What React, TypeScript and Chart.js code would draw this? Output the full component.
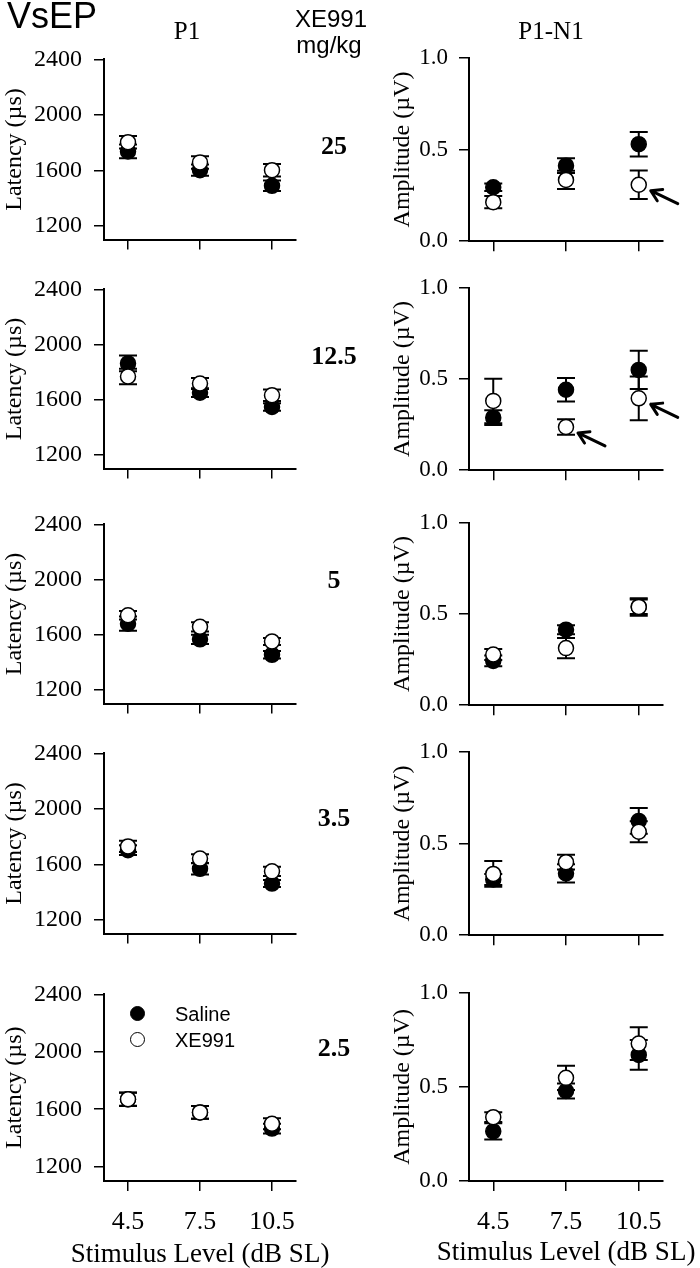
import React, { useEffect, useRef } from 'react';
import { Chart, registerables } from 'chart.js';

Chart.register(...registerables);

// ---------- data ----------
const LEVELS = [4.5, 7.5, 10.5];
const DOSES = ['25', '12.5', '5', '3.5', '2.5'];
const LAT_TICKS = [1200, 1600, 2000, 2400];
const AMP_TICKS = [0, 0.5, 1.0];

// P1 latency (µs), rows = dose (25, 12.5, 5, 3.5, 2.5 mg/kg), cols = level
const latSaline = [
  [1736, 1601, 1488],
  [1863, 1651, 1547],
  [1680, 1566, 1454],
  [1702, 1567, 1461],
  [1669, 1578, 1465],
];
const latSalineErr = [
  [50, 40, 38],
  [57, 31, 27],
  [52, 33, 27],
  [35, 40, 25],
  [47, 45, 34],
];
const latXE = [
  [1803, 1657, 1601],
  [1768, 1717, 1632],
  [1741, 1657, 1551],
  [1729, 1641, 1549],
  [1669, 1578, 1499],
];
const latXEErr = [
  [45, 45, 45],
  [56, 40, 41],
  [30, 34, 25],
  [40, 32, 34],
  [45, 45, 39],
];

// P1-N1 amplitude (µV)
const ampSaline = [
  [0.294, 0.412, 0.529],
  [0.288, 0.441, 0.55],
  [0.243, 0.414, 0.54],
  [0.304, 0.337, 0.623],
  [0.264, 0.478, 0.67],
];
const ampSalineErr = [
  [0.02, 0.04, 0.067],
  [0.04, 0.065, 0.105],
  [0.03, 0.025, 0.04],
  [0.03, 0.05, 0.07],
  [0.043, 0.04, 0.079],
];
const ampXE = [
  [0.213, 0.334, 0.308],
  [0.38, 0.237, 0.394],
  [0.278, 0.313, 0.539],
  [0.334, 0.398, 0.564],
  [0.339, 0.548, 0.73],
];
const ampXEErr = [
  [0.033, 0.05, 0.078],
  [0.122, 0.042, 0.12],
  [0.03, 0.056, 0.048],
  [0.07, 0.04, 0.057],
  [0.026, 0.064, 0.087],
];
// XE991 amplitude points marked with an arrow (level indices per dose row)
const ampArrows = [[2], [1, 2], [], [], []];

// ---------- layout ----------
const ROW_TOP = [53, 283, 518, 747, 988];
const ROW_BOTTOM = [246, 475, 710, 940, 1181];
const PAGE_H = 1268;
const TOP_PAD = 20;
const GEOM: any = {
  lat: { left: 0, width: 350, axisW: 104, padR: 54, tickFont: 24, tickPad: 12, titlePad: 0 },
  amp: { left: 350, width: 350, axisW: 119, padR: 37, tickFont: 23, tickPad: 11, titlePad: 38 },
};
const SERIF = "'Liberation Serif', 'Times New Roman', serif";
const SANS = "'Liberation Sans', Arial, sans-serif";

Chart.defaults.font.family = SERIF;
Chart.defaults.color = '#000';

const errorBarPlugin = {
  id: 'errbars',
  beforeDatasetDraw(chart: any, args: any) {
    const ds = chart.data.datasets[args.index];
    const errs = ds.errors;
    if (!errs) return;
    const meta = args.meta;
    const ys = chart.scales.y;
    const ctx = chart.ctx;
    ctx.save();
    ctx.strokeStyle = '#000';
    ctx.lineWidth = 2;
    ds.data.forEach((p: any, i: number) => {
      const px = meta.data[i].x;
      const yt = ys.getPixelForValue(p.y + errs[i]);
      const yb = ys.getPixelForValue(p.y - errs[i]);
      ctx.beginPath();
      ctx.moveTo(px, yt);
      ctx.lineTo(px, yb);
      ctx.moveTo(px - 9, yt);
      ctx.lineTo(px + 9, yt);
      ctx.moveTo(px - 9, yb);
      ctx.lineTo(px + 9, yb);
      ctx.stroke();
    });
    ctx.restore();
  },
};

function makeArrowPlugin(indices: number[]) {
  return {
    id: 'arrows',
    afterDatasetsDraw(chart: any) {
      if (!indices.length) return;
      const meta = chart.getDatasetMeta(1); // XE991 dataset
      const ctx = chart.ctx;
      ctx.save();
      ctx.strokeStyle = '#000';
      ctx.lineWidth = 3;
      ctx.lineCap = 'round';
      ctx.lineJoin = 'round';
      indices.forEach((i) => {
        const pt = meta.data[i];
        const tx = pt.x + 12, ty = pt.y + 6;
        const sx = pt.x + 39, sy = pt.y + 19;
        const ang = Math.atan2(ty - sy, tx - sx);
        const hl = 12;
        ctx.beginPath();
        ctx.moveTo(sx, sy);
        ctx.lineTo(tx, ty);
        ctx.moveTo(tx - hl * Math.cos(ang - 0.55), ty - hl * Math.sin(ang - 0.55));
        ctx.lineTo(tx, ty);
        ctx.lineTo(tx - hl * Math.cos(ang + 0.55), ty - hl * Math.sin(ang + 0.55));
        ctx.stroke();
      });
      ctx.restore();
    },
  };
}

function Panel({ kind, row }: { kind: 'lat' | 'amp'; row: number }) {
  const ref = useRef<HTMLCanvasElement>(null);
  const g = GEOM[kind];
  const isLast = row === DOSES.length - 1;
  const xAxisH = isLast ? 60 : 20;
  const canvasTop = ROW_TOP[row] - TOP_PAD;
  const canvasH = TOP_PAD + (ROW_BOTTOM[row] - ROW_TOP[row]) + xAxisH;

  useEffect(() => {
    const isLat = kind === 'lat';
    const sal = isLat ? latSaline[row] : ampSaline[row];
    const salE = isLat ? latSalineErr[row] : ampSalineErr[row];
    const xe = isLat ? latXE[row] : ampXE[row];
    const xeE = isLat ? latXEErr[row] : ampXEErr[row];
    const yTicks = isLat ? LAT_TICKS : AMP_TICKS;

    const chart = new Chart(ref.current as HTMLCanvasElement, {
      type: 'scatter',
      data: {
        datasets: [
          {
            label: 'Saline',
            data: LEVELS.map((x, i) => ({ x, y: sal[i] })),
            errors: salE,
            pointRadius: 7.5,
            pointBorderWidth: 1.5,
            pointBackgroundColor: '#000',
            pointBorderColor: '#000',
            order: 1,
          } as any,
          {
            label: 'XE991',
            data: LEVELS.map((x, i) => ({ x, y: xe[i] })),
            errors: xeE,
            pointRadius: 7.5,
            pointBorderWidth: 1.5,
            pointBackgroundColor: '#fff',
            pointBorderColor: '#000',
            order: 0,
          } as any,
        ],
      },
      options: {
        responsive: false,
        animation: false,
        events: [],
        layout: { padding: { left: 0, right: g.padR, top: TOP_PAD, bottom: 0 } },
        plugins: { legend: { display: false }, tooltip: { enabled: false } },
        scales: {
          x: {
            type: 'linear',
            min: 3.5,
            max: 11.5,
            afterBuildTicks: (s: any) => {
              s.ticks = LEVELS.map((v) => ({ value: v }));
            },
            afterFit: (s: any) => {
              s.height = xAxisH;
            },
            grid: { drawOnChartArea: false, tickLength: 10, color: '#000', lineWidth: 1.5 },
            border: { color: '#000', width: 2 },
            ticks: {
              display: isLast,
              font: { size: 26, family: SERIF },
              padding: 16,
              maxRotation: 0,
              callback: (v: any) => String(v),
            },
            title: { display: false },
          },
          y: {
            type: 'linear',
            min: isLat ? 1100 : 0,
            max: isLat ? 2400 : 1,
            afterBuildTicks: (s: any) => {
              s.ticks = yTicks.map((v) => ({ value: v }));
            },
            afterFit: (s: any) => {
              s.width = g.axisW;
            },
            grid: { drawOnChartArea: false, tickLength: 10, color: '#000', lineWidth: 1.5 },
            border: { color: '#000', width: 2 },
            ticks: {
              font: { size: g.tickFont, family: SERIF },
              padding: g.tickPad,
              callback: (v: any) => (isLat ? String(v) : Number(v).toFixed(1)),
            },
            title: {
              display: true,
              text: isLat ? 'Latency (µs)' : 'Amplitude (µV)',
              font: { size: 24, family: SERIF },
              padding: { top: g.titlePad, bottom: 0 },
            },
          },
        },
      },
      plugins: [errorBarPlugin, makeArrowPlugin(isLat ? [] : ampArrows[row])],
    } as any);
    return () => chart.destroy();
  }, []);

  return (
    <canvas
      ref={ref}
      width={g.width}
      height={canvasH}
      style={{ position: 'absolute', left: g.left, top: canvasTop, width: g.width, height: canvasH }}
    />
  );
}

const DOSE_CENTER_X = 334;
const DOSE_CENTER_Y = [146, 356, 580, 818, 1048];

function Label({ text, x, y, font, size, bold }: any) {
  return (
    <div
      style={{
        position: 'absolute',
        left: x,
        top: y,
        transform: 'translate(-50%, -50%)',
        fontFamily: font,
        fontSize: size,
        fontWeight: bold ? 'bold' : 'normal',
        lineHeight: 1,
        whiteSpace: 'nowrap',
        color: '#000',
      }}
    >
      {text}
    </div>
  );
}

function LegendRow({ y, filled, text }: any) {
  return (
    <>
      <div
        style={{
          position: 'absolute',
          left: 138 - 8,
          top: y - 8,
          width: 13,
          height: 13,
          borderRadius: '50%',
          border: '1.5px solid #000',
          background: filled ? '#000' : '#fff',
        }}
      />
      <div
        style={{
          position: 'absolute',
          left: 175,
          top: y,
          transform: 'translateY(-50%)',
          fontFamily: SANS,
          fontSize: 20,
          lineHeight: 1,
          whiteSpace: 'nowrap',
        }}
      >
        {text}
      </div>
    </>
  );
}

const X_TITLE = 'Stimulus Level (dB SL)';

export default function App() {
  return (
    <div style={{ position: 'absolute', left: 0, top: 0, width: 700, height: PAGE_H, background: '#fff', overflow: 'hidden' }}>
      {DOSES.map((_, r) => (
        <React.Fragment key={r}>
          <Panel kind="lat" row={r} />
          <Panel kind="amp" row={r} />
        </React.Fragment>
      ))}
      <Label text="VsEP" x={52} y={16} font={SANS} size={36} />
      <Label text="P1" x={187} y={30} font={SERIF} size={25} />
      <Label text="P1-N1" x={551} y={30} font={SERIF} size={25} />
      <Label text="XE991" x={331} y={19} font={SANS} size={24} />
      <Label text="mg/kg" x={329} y={45} font={SANS} size={24} />
      {DOSES.map((d, r) => (
        <Label key={d} text={d} x={DOSE_CENTER_X} y={DOSE_CENTER_Y[r]} font={SERIF} size={26} bold />
      ))}
      <LegendRow y={1014} filled text="Saline" />
      <LegendRow y={1040} filled={false} text="XE991" />
      <Label text={X_TITLE} x={200} y={1253} font={SERIF} size={27} />
      <Label text={X_TITLE} x={566} y={1251} font={SERIF} size={27} />
    </div>
  );
}
